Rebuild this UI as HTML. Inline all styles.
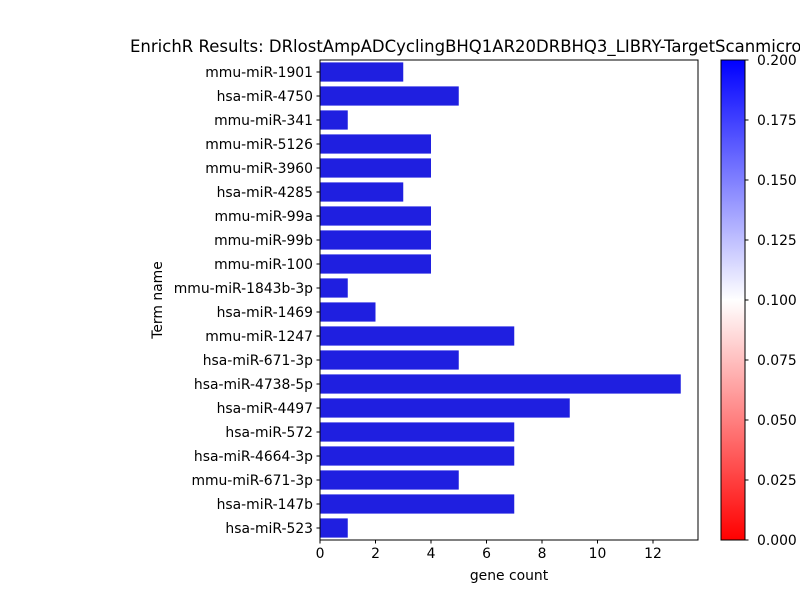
<!DOCTYPE html>
<html><head><meta charset="utf-8"><style>
body{margin:0;background:#fff;width:800px;height:600px;overflow:hidden;font-family:"Liberation Sans","DejaVu Sans",sans-serif}
</style></head><body>
<svg id="chart" width="800" height="600" xmlns="http://www.w3.org/2000/svg" font-family="DejaVu Sans, Liberation Sans, sans-serif">
<defs><linearGradient id="cg" x1="0" y1="1" x2="0" y2="0">
<stop offset="0" stop-color="#ff0000"/><stop offset="0.5" stop-color="#ffffff"/><stop offset="1" stop-color="#0000ff"/></linearGradient></defs>
<text x="130" y="52" font-size="16.5">EnrichR Results: DRlostAmpADCyclingBHQ1AR20DRBHQ3_LIBRY-TargetScanmicroRNA</text>
<g id="plot"></g>
<rect x="320" y="60" width="378" height="480" fill="none" stroke="#000" stroke-width="1"/>
<rect x="721" y="60" width="24" height="480" fill="url(#cg)" stroke="#000" stroke-width="1"/>
<g id="cbticks"></g>
<text x="509" y="580" font-size="13.9" text-anchor="middle">gene count</text>
<text x="0" y="0" font-size="13.9" text-anchor="middle" transform="translate(162,300) rotate(-90)">Term name</text>
</svg>
<script>
const categories=["mmu-miR-1901","hsa-miR-4750","mmu-miR-341","mmu-miR-5126","mmu-miR-3960","hsa-miR-4285","mmu-miR-99a","mmu-miR-99b","mmu-miR-100","mmu-miR-1843b-3p","hsa-miR-1469","mmu-miR-1247","hsa-miR-671-3p","hsa-miR-4738-5p","hsa-miR-4497","hsa-miR-572","hsa-miR-4664-3p","mmu-miR-671-3p","hsa-miR-147b","hsa-miR-523"];
const counts=[3,5,1,4,4,3,4,4,4,1,2,7,5,13,9,7,7,5,7,1];
const xTicks=[0,2,4,6,8,10,12];
const cbTicks=[0,0.025,0.05,0.075,0.1,0.125,0.15,0.175,0.2];
const NS="http://www.w3.org/2000/svg";
const x0=320,pxPerUnit=27.75,plotTop=60,band=24;
const xs=v=>x0+v*pxPerUnit;
const ys=i=>plotTop+i*band;
const cbY=v=>540-(v/0.2)*480;
const g=document.getElementById('plot');
function mk(t,a,p){const e=document.createElementNS(NS,t);for(const k in a)e.setAttribute(k,a[k]);(p||g).appendChild(e);return e;}
categories.forEach((c,i)=>{
 const r=mk('rect',{x:xs(0),y:ys(i)+band*0.1,width:xs(counts[i])-xs(0),height:band*0.8,fill:'#1f1fe0'});
 
 
 const cy=ys(i)+band/2;
 mk('line',{x1:316.5,x2:320,y1:cy,y2:cy,stroke:'#000'});
 const t=mk('text',{x:313,y:cy+5,'font-size':13.9,'text-anchor':'end'});t.textContent=c;
 
 
});
xTicks.forEach(v=>{
 mk('line',{x1:xs(v),x2:xs(v),y1:540,y2:543.5,stroke:'#000'});
 const t=mk('text',{x:xs(v),y:558,'font-size':13.9,'text-anchor':'middle'});t.textContent=v;
 
 
});
const cg=document.getElementById('cbticks');
cbTicks.forEach(v=>{
 mk('line',{x1:745,x2:748.5,y1:cbY(v),y2:cbY(v),stroke:'#000'},cg);
 const t=mk('text',{x:757,y:cbY(v)+5,'font-size':13.9},cg);t.textContent=v.toFixed(3);
 
 
});
</script>
</body></html>
